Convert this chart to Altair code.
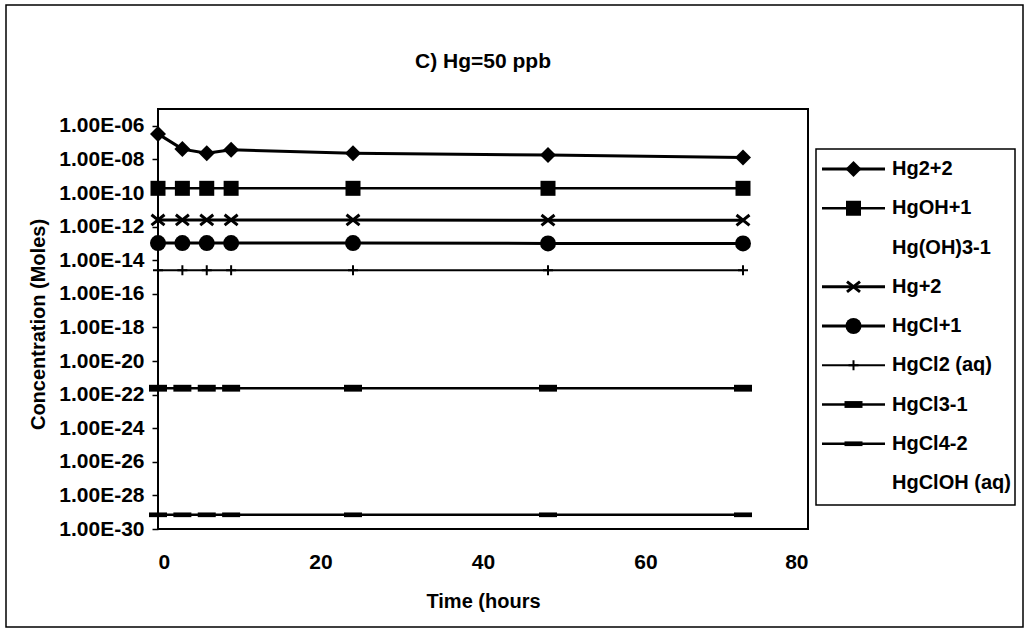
import altair as alt
import pandas as pd

# Sampling times (hours)
hours = [0, 3, 6, 9, 24, 48, 72]

# Species concentrations (moles)
hg2_2 = [3.3e-7, 4.1e-8, 2.3e-8, 3.7e-8, 2.3e-8, 1.8e-8, 1.3e-8]
hgoh_1 = [1.9e-10, 1.9e-10, 1.9e-10, 1.9e-10, 1.9e-10, 1.9e-10, 1.9e-10]
hg_2 = [2.5e-12, 2.5e-12, 2.5e-12, 2.5e-12, 2.5e-12, 2.4e-12, 2.4e-12]
hgcl_1 = [1.05e-13, 1.05e-13, 1.05e-13, 1.05e-13, 1.05e-13, 1.0e-13, 1.0e-13]
hgcl2 = [2.5e-15, 2.5e-15, 2.5e-15, 2.5e-15, 2.5e-15, 2.5e-15, 2.5e-15]
hgcl3_1 = [2.4e-22, 2.4e-22, 2.4e-22, 2.4e-22, 2.4e-22, 2.4e-22, 2.4e-22]
hgcl4_2 = [7e-30, 7e-30, 7e-30, 7e-30, 7e-30, 7e-30, 7e-30]

legend_names = ["Hg2+2", "HgOH+1", "Hg(OH)3-1", "Hg+2", "HgCl+1",
                "HgCl2 (aq)", "HgCl3-1", "HgCl4-2", "HgClOH (aq)"]

title_text = ["C) Hg=50 ppb"]

y_ticks = [1e-6, 1e-8, 1e-10, 1e-12, 1e-14, 1e-16, 1e-18, 1e-20,
           1e-22, 1e-24, 1e-26, 1e-28, 1e-30]
x_ticks = [0, 20, 40, 60, 80]

FONT = "Liberation Sans"

X_PATH = "M-1,-0.8L1,0.8M-1,0.8L1,-0.8"
PLUS_PATH = "M0,-1L0,1M-1,0L1,0"
DASH3_PATH = "M-1,-0.38L1,-0.38L1,0.38L-1,0.38Z"
DASH4_PATH = "M-1,-0.26L1,-0.26L1,0.26L-1,0.26Z"

# name -> (values, marker shape, marker size, filled, marker stroke, line width)
series = {
    "Hg2+2": (hg2_2, "diamond", 256, True, 0, 3),
    "HgOH+1": (hgoh_1, "square", 225, True, 0, 2.5),
    "Hg+2": (hg_2, X_PATH, 169, False, 3, 3),
    "HgCl+1": (hgcl_1, "circle", 256, True, 0, 3),
    "HgCl2 (aq)": (hgcl2, PLUS_PATH, 100, False, 2, 2),
    "HgCl3-1": (hgcl3_1, DASH3_PATH, 324, True, 0, 2.5),
    "HgCl4-2": (hgcl4_2, DASH4_PATH, 324, True, 0, 2.5),
}

x_scale = alt.Scale(domain=[0, 80], nice=False, zero=False)
y_scale = alt.Scale(type="log", domain=[1e-30, 1e-5], nice=False)

label_expr = ("'1.00E-' + (round(-log(datum.value)/LN10) < 10 ? '0' : '') "
              "+ round(-log(datum.value)/LN10)")

x_axis = alt.Axis(values=x_ticks, ticks=False, grid=False, domain=False,
                  labelFont=FONT, labelFontSize=21, labelFontWeight="bold",
                  labelColor="black", labelPadding=22,
                  title="Time (hours", titleFont=FONT, titleFontSize=20,
                  titleFontWeight="bold", titleColor="black",
                  titleX=325, titleY=62, titleBaseline="top")
y_axis = alt.Axis(values=y_ticks, labelExpr=label_expr, grid=False, domain=False,
                  tickSize=6, tickColor="black", tickWidth=1.5,
                  labelFont=FONT, labelFontSize=21, labelFontWeight="bold",
                  labelColor="black", labelPadding=8,
                  title="Concentration (Moles)", titleFont=FONT, titleFontSize=20,
                  titleFontWeight="bold", titleColor="black",
                  titleX=-110, titleY=215, titleAngle=-90)

plot_layers = []
first = True
for name, (vals, shape, size, filled, mstroke, lw) in series.items():
    df = pd.DataFrame({"t": hours, "c": vals, "name": name})
    base = alt.Chart(df)
    if first:
        enc_x = alt.X("t:Q", scale=x_scale, axis=x_axis)
        enc_y = alt.Y("c:Q", scale=y_scale, axis=y_axis)
        first = False
    else:
        enc_x = alt.X("t:Q", scale=x_scale)
        enc_y = alt.Y("c:Q", scale=y_scale)
    line = base.mark_line(color="black", strokeWidth=lw).encode(x=enc_x, y=enc_y)
    pt = base.mark_point(shape=shape, size=size, filled=filled, color="black",
                         opacity=1, strokeWidth=mstroke if mstroke else 1).encode(
        x=alt.X("t:Q", scale=x_scale), y=alt.Y("c:Q", scale=y_scale))
    plot_layers += [line, pt]

main = alt.layer(*plot_layers)

# Legend panel, positioned with its own scales to the right of the plot
lx_scale = alt.Scale(domain=[0, 1], range=[664, 727], nice=False, zero=False)
ly_scale = alt.Scale(domain=[0, 8], range=[60, 374], nice=False, zero=False)

leg_rows = pd.DataFrame({"name": legend_names, "row": list(range(len(legend_names)))})

leg_box = alt.Chart(pd.DataFrame({"k": [0]})).mark_rect(
    filled=False, stroke="black", strokeWidth=1.5).encode(
    x=alt.value(658), x2=alt.value(857), y=alt.value(40), y2=alt.value(396))

leg_layers = [leg_box]
for name, (vals, shape, size, filled, mstroke, lw) in series.items():
    row = legend_names.index(name)
    seg = pd.DataFrame({"lx": [0.0, 1.0], "row": [row, row]})
    leg_layers.append(alt.Chart(seg).mark_line(color="black", strokeWidth=lw).encode(
        x=alt.X("lx:Q", scale=lx_scale, axis=None),
        y=alt.Y("row:Q", scale=ly_scale, axis=None)))
    mk = pd.DataFrame({"lx": [0.5], "row": [row]})
    leg_layers.append(alt.Chart(mk).mark_point(
        shape=shape, size=size, filled=filled, color="black", opacity=1,
        strokeWidth=mstroke if mstroke else 1).encode(
        x=alt.X("lx:Q", scale=lx_scale, axis=None),
        y=alt.Y("row:Q", scale=ly_scale, axis=None)))

leg_text = alt.Chart(leg_rows).transform_calculate(lx="1").mark_text(
    align="left", baseline="middle", dx=7, font=FONT, fontSize=20,
    fontWeight="bold", color="black").encode(
    x=alt.X("lx:Q", scale=lx_scale, axis=None),
    y=alt.Y("row:Q", scale=ly_scale, axis=None),
    text="name:N")
leg_layers.append(leg_text)
legend = alt.layer(*leg_layers)

# Chart heading, centred over the plot area
heading = alt.Chart(pd.DataFrame({"title": title_text})).mark_text(
    align="center", baseline="middle", font=FONT, fontSize=21,
    fontWeight="bold", color="black").encode(
    x=alt.value(325), y=alt.value(-47), text="title:N")

# Outer frame around the whole figure
frame = alt.Chart(pd.DataFrame({"k": [0]})).mark_rect(
    filled=False, stroke="black", strokeWidth=1.5).encode(
    x=alt.value(-152), x2=alt.value(865), y=alt.value(-104), y2=alt.value(518))

chart = alt.layer(main, legend, heading, frame).resolve_scale(
    x="independent", y="independent"
).properties(
    width=650, height=420,
    padding={"left": 158, "top": 109, "right": 222, "bottom": 103},
    autosize=alt.AutoSizeParams(type="none"),
    background="white",
).configure_view(stroke="black", strokeWidth=2)

chart.save("out.html", embed_options={"renderer": "svg", "actions": False})
